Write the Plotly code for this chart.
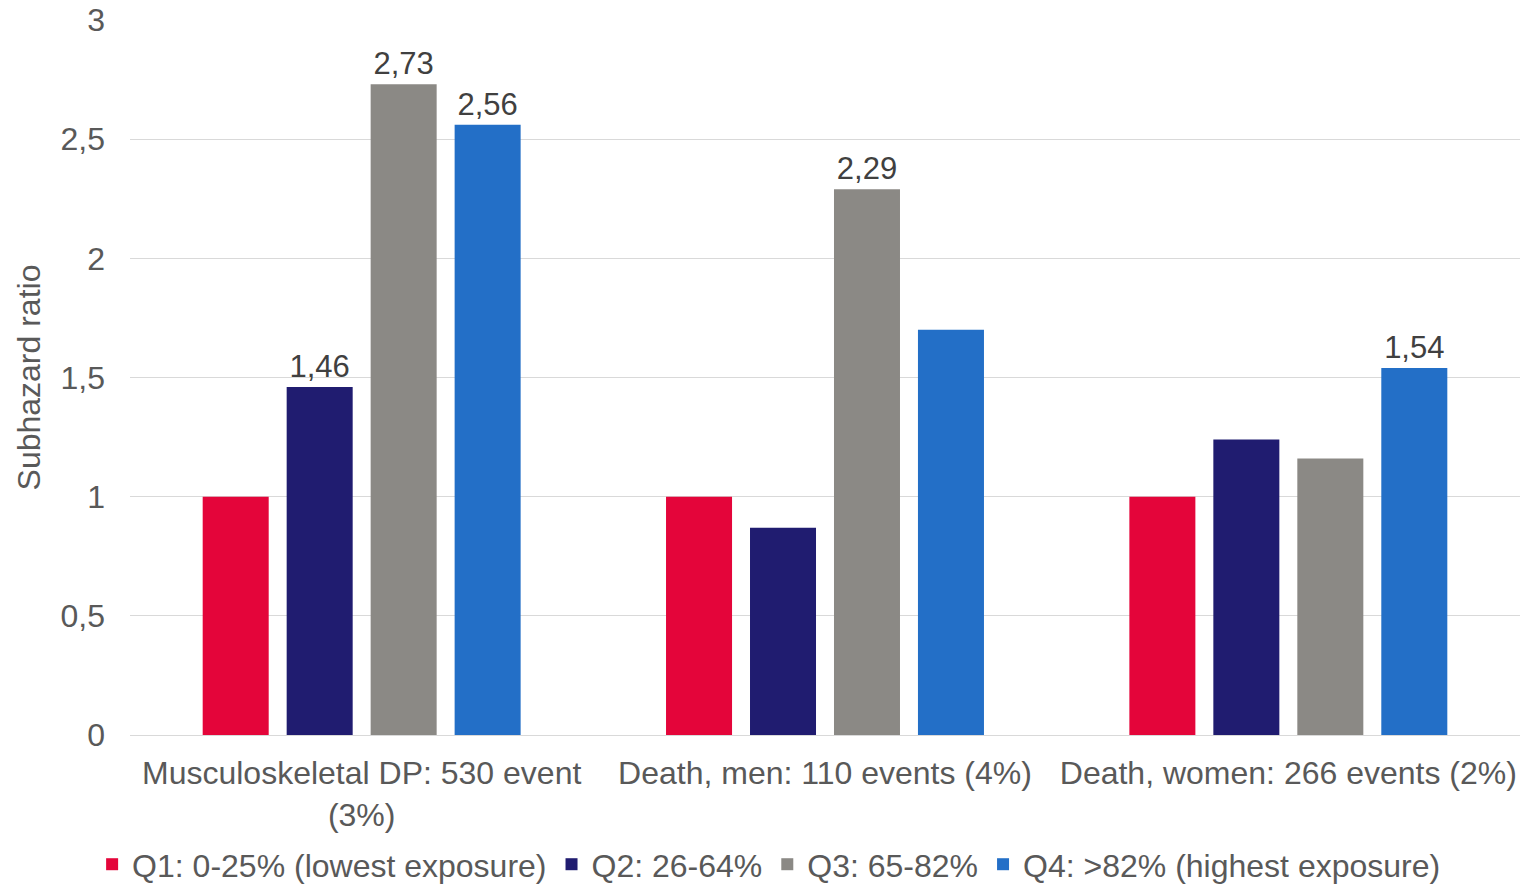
import plotly.graph_objects as go

categories = ["Musculoskeletal DP: 530 event<br>(3%)",
              "Death, men: 110 events (4%)",
              "Death, women: 266 events (2%)"]
series_names = ["Q1: 0-25% (lowest exposure)", "Q2: 26-64%", "Q3: 65-82%",
                "Q4: >82% (highest exposure)"]
q1 = [1.0, 1.0, 1.0]
q2 = [1.46, 0.87, 1.24]
q3 = [2.73, 2.29, 1.16]
q4 = [2.56, 1.70, 1.54]
labels_q1 = ["", "", ""]
labels_q2 = ["1,46", "", ""]
labels_q3 = ["2,73", "2,29", ""]
labels_q4 = ["2,56", "", "1,54"]
y_ticks = [0, 0.5, 1, 1.5, 2, 2.5, 3]

colors = ["#E4053A", "#201C70", "#8B8985", "#236FC7"]
FONT = "Liberation Sans, Arial, sans-serif"
TXT = "#595959"
FS = 32

fig = go.Figure()
for name, vals, labs, col in zip(series_names, [q1, q2, q3, q4],
                                 [labels_q1, labels_q2, labels_q3, labels_q4], colors):
    fig.add_trace(go.Bar(
        x=categories, y=vals, name=name, marker=dict(color=col, line=dict(width=0)),
        text=labs, textposition="outside", cliponaxis=False,
        textfont=dict(family=FONT, size=FS - 1, color="#404040"),
    ))

fig.update_layout(
    width=1523, height=886,
    margin=dict(l=130, r=3, t=20, b=151, autoexpand=False),
    paper_bgcolor="white", plot_bgcolor="white",
    barmode="group", bargap=0.275, bargroupgap=0.214,
    separators=", ",
    font=dict(family=FONT, size=FS, color=TXT),
    showlegend=True,
    legend=dict(orientation="h", xref="container", x=0.505, xanchor="center",
                yref="paper", y=-0.181, yanchor="middle",
                font=dict(family=FONT, size=FS, color=TXT), itemsizing="constant",
                traceorder="normal"),
    xaxis=dict(showgrid=False, showline=True, linecolor="#d9d9d9", linewidth=1,
               ticks="", tickfont=dict(family=FONT, size=FS, color=TXT),
               ticklabelstandoff=10),
    yaxis=dict(range=[0, 3], tickvals=y_ticks, showgrid=True, gridcolor="#d9d9d9",
               gridwidth=1, zeroline=False, showline=False, ticks="",
               tickfont=dict(family=FONT, size=FS, color=TXT),
               ticklabelstandoff=24,
               title=dict(text="Subhazard ratio", font=dict(family=FONT, size=FS, color=TXT),
                          standoff=10)),
)

fig.write_html("out.html")
